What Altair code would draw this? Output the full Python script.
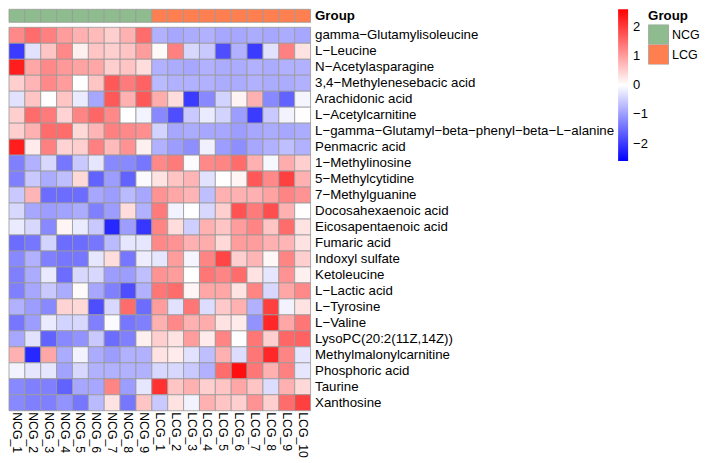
import altair as alt
import pandas as pd

M = "\u2212"
metabolites = [
    "\u00a0gamma" + M + "Glutamylisoleucine",
    "\u00a0L" + M + "Leucine",
    "\u00a0N" + M + "Acetylasparagine",
    "3,4" + M + "Methylenesebacic acid",
    "Arachidonic acid",
    "L" + M + "Acetylcarnitine",
    "L" + M + "gamma" + M + "Glutamyl" + M + "beta" + M + "phenyl" + M + "beta" + M + "L" + M + "alanine",
    "Penmacric acid",
    "1" + M + "Methylinosine",
    "5" + M + "Methylcytidine",
    "7" + M + "Methylguanine",
    "Docosahexaenoic acid",
    "Eicosapentaenoic acid",
    "Fumaric acid",
    "Indoxyl sulfate",
    "Ketoleucine",
    "L" + M + "Lactic acid",
    "L" + M + "Tyrosine",
    "L" + M + "Valine",
    "LysoPC(20:2(11Z,14Z))",
    "Methylmalonylcarnitine",
    "Phosphoric acid",
    "Taurine",
    "Xanthosine",
]

ncg_samples = ["NCG_1", "NCG_2", "NCG_3", "NCG_4", "NCG_5", "NCG_6", "NCG_7", "NCG_8", "NCG_9"]
lcg_samples = ["LCG_1", "LCG_2", "LCG_3", "LCG_4", "LCG_5", "LCG_6", "LCG_7", "LCG_8", "LCG_9", "LCG_10"]

ncg_values = [
    [1.2, 1.5, 1.3, 1.0, 0.8, 0.7, 0.5, 0.8, 1.5],
    [-2.0, -0.3, 0.6, 1.2, 0.15, 0.6, 0.5, 0.6, 1.0],
    [2.3, 0.9, 1.2, 1.05, 0.95, 0.9, 0.5, 0.6, 0.35],
    [0.5, 0.75, 1.2, 1.0, 0.0, 0.6, 1.7, 1.35, 1.6],
    [-0.3, 0.6, 0.0, 0.6, -0.2, -0.9, 1.7, 0.8, 1.7],
    [0.5, 1.5, 1.35, 0.45, 1.25, 1.55, 1.2, 0.0, -0.12],
    [0.5, 0.8, 1.5, 1.5, 0.4, 0.75, 1.3, 1.2, 1.15],
    [2.3, 0.2, 1.3, 0.45, 0.5, 1.3, 0.7, 1.1, 0.15],
    [-1.3, -0.8, -0.4, -1.4, -0.55, -0.25, -1.2, -1.2, -1.4],
    [-1.3, -0.55, -0.85, -0.65, 0.4, -1.6, -1.0, -1.6, -0.05],
    [-0.55, 0.75, -1.5, -1.5, -1.5, -0.9, -1.0, -0.7, -0.9],
    [-0.4, -0.9, -1.0, -0.95, -0.85, -1.3, -1.0, 0.35, -0.8],
    [-0.2, -0.4, -1.2, 0.1, -0.2, -0.55, -2.2, -1.0, -2.05],
    [-1.5, -1.4, -0.45, -1.5, -1.5, -1.4, -0.7, -0.25, -0.25],
    [-1.2, -0.8, -1.3, -1.4, -1.4, -0.25, 0.35, -1.4, -0.18],
    [-1.3, -0.85, -0.22, -1.5, -0.4, -0.4, -1.0, -1.0, -0.65],
    [-1.3, -0.9, -0.55, -0.85, 0.05, -0.9, -1.3, -1.8, -0.8],
    [-0.8, -1.0, -1.2, 0.45, 0.4, -1.8, -0.4, 1.5, -1.5],
    [-1.4, -1.0, -0.2, -0.45, -0.4, -1.3, -0.05, -1.4, -1.3],
    [-0.9, -0.3, -1.6, -1.2, -1.1, -0.55, -1.5, -1.3, 0.15],
    [0.8, -2.2, 0.9, -0.85, -0.12, -0.85, -1.0, -0.8, -0.8],
    [-0.12, -0.25, -0.25, -0.95, -0.4, -0.8, -0.8, -0.8, -0.8],
    [-1.2, -1.3, -1.3, -1.6, -0.9, -0.9, 1.25, -1.0, -0.25],
    [-1.2, -1.3, -1.3, -1.1, -1.4, -0.7, 0.3, -1.4, 0.6],
]

lcg_values = [
    [-0.8, -0.9, -0.85, -0.8, -0.9, -0.9, -0.85, -0.9, -0.85, -0.9],
    [0.05, 1.3, -0.4, -0.55, -1.8, -0.8, -2.0, -0.3, 1.3, 0.3],
    [-0.8, -0.85, -0.9, -0.8, -0.85, -0.85, -0.8, -0.85, -0.8, -0.8],
    [-0.7, -0.8, -0.8, -0.8, -0.85, -0.85, -0.8, -0.85, -0.85, -0.8],
    [0.85, 0.35, -2.0, -1.2, -0.45, 0.12, 0.8, -1.2, -1.6, -0.1],
    [-1.2, -1.8, -0.55, -0.2, -0.45, -1.0, -2.0, -0.55, -0.12, 0.02],
    [-0.45, -0.9, -0.85, -0.9, -0.9, -1.0, -0.9, -0.85, -0.9, -0.85],
    [-0.8, -1.0, -1.15, -0.15, -1.0, -1.15, -0.9, -0.8, -0.65, -0.8],
    [1.2, 1.35, -0.05, 1.2, 1.25, 1.5, 0.8, -0.08, 0.85, 0.5],
    [0.3, 0.6, 0.75, -0.3, 0.0, 0.1, 1.7, 1.2, 1.95, 0.8],
    [1.1, 0.9, 0.75, -0.65, 0.8, 0.8, 0.8, 0.95, 1.25, 1.1],
    [1.35, -0.12, 0.0, -0.4, 0.5, 1.75, 1.35, 1.8, 0.8, 0.02],
    [1.25, 0.35, -0.5, 0.8, 0.6, 1.0, 1.25, 0.6, 1.5, 0.3],
    [1.2, 1.1, 0.8, 0.85, 0.4, 1.0, 1.0, 0.8, 0.75, 0.3],
    [-0.25, 1.0, -0.1, 1.25, 1.9, 0.5, 0.75, 0.08, 1.25, 0.5],
    [1.1, 1.0, 0.0, 1.4, 1.25, 1.5, 0.3, -0.25, 1.1, 0.15],
    [1.4, 1.5, 0.1, 0.9, 0.9, 0.3, 1.25, -0.4, 0.9, 1.2],
    [1.0, -0.3, 1.4, -0.35, 0.55, 0.8, -0.8, 1.95, -0.12, 0.3],
    [0.8, 1.2, 0.8, 0.85, 0.3, 0.2, -1.1, 2.2, 0.9, 1.4],
    [0.5, 0.3, 1.0, 0.2, 1.25, 0.0, 1.4, 0.5, 1.55, 1.6],
    [0.3, 0.2, -0.3, -0.65, 0.8, -0.35, 1.4, 2.2, 1.25, -0.25],
    [-0.4, -0.4, -0.55, -0.8, 1.5, 2.45, 1.4, 0.8, 1.3, -0.25],
    [2.1, 0.6, 0.8, 0.5, 0.6, 0.9, 0.6, -0.35, 0.8, 0.4],
    [-0.55, 0.3, -0.12, 0.8, 0.6, 0.5, 1.1, 0.5, 1.5, 1.95],
]

group_names = ["NCG", "LCG"]
group_colors = ["#8FBC8F", "#FF7F50"]
color_domain = [-2.6, 0, 2.6]
color_range = ["#0000FF", "#FFFFFF", "#FF0000"]
legend_ticks = [-2, -1, 0, 1, 2]

samples = ncg_samples + lcg_samples
records = []
for m, nv, lv in zip(metabolites, ncg_values, lcg_values):
    for s, v in zip(samples, nv + lv):
        records.append({"metabolite": m, "sample": s, "value": v})
df = pd.DataFrame(records)
gdf = pd.DataFrame({
    "sample": samples,
    "group": [group_names[0]] * len(ncg_samples) + [group_names[1]] * len(lcg_samples),
    "label": "Group",
})

FONT = "Liberation Sans"
W = 302
GRID = "#999999"

bar = alt.Chart(gdf).mark_rect(stroke=GRID, strokeWidth=0.8).encode(
    x=alt.X("sample:N", sort=samples,
            scale=alt.Scale(domain=samples, paddingInner=0, paddingOuter=0), axis=None),
    y=alt.Y("label:N", axis=alt.Axis(orient="right", title=None, ticks=False, domain=False,
                                     labelFontWeight="bold", labelFontSize=13.3, labelFont=FONT,
                                     labelColor="black", labelPadding=4)),
    fill=alt.Fill("group:N", scale=alt.Scale(domain=group_names, range=group_colors),
                  legend=alt.Legend(title="Group", orient="none", legendX=640, legendY=0,
                                    padding=0, symbolType="square", symbolSize=400,
                                    symbolStrokeColor=GRID, symbolStrokeWidth=0.8,
                                    rowPadding=0, clipHeight=20, labelFontSize=12.5,
                                    labelFont=FONT, labelColor="black", titleFontSize=13.3,
                                    titleFont=FONT, titleColor="black", titlePadding=2,
                                    labelOffset=3, symbolOffset=0)),
).properties(width=W, height=13)

heat = alt.Chart(df).mark_rect(stroke=GRID, strokeWidth=0.8).encode(
    x=alt.X("sample:N", sort=samples,
            scale=alt.Scale(domain=samples, paddingInner=0, paddingOuter=0),
            axis=alt.Axis(title=None, labelAngle=90, ticks=False, domain=False,
                          labelFontSize=12.3, labelFont=FONT, labelColor="black", labelPadding=1)),
    y=alt.Y("metabolite:N", sort=metabolites,
            scale=alt.Scale(domain=metabolites, paddingInner=0, paddingOuter=0),
            axis=alt.Axis(orient="right", title=None, ticks=False, domain=False,
                          labelFontSize=13.3, labelFont=FONT, labelColor="black",
                          labelPadding=4, labelLimit=400)),
    color=alt.Color("value:Q",
                    scale=alt.Scale(domain=color_domain, range=color_range, interpolate="rgb"),
                    legend=alt.Legend(title=None, orient="none", legendX=610, legendY=0,
                                      padding=0, direction="vertical", gradientLength=152,
                                      gradientThickness=10, gradientStrokeWidth=0,
                                      values=legend_ticks, labelFontSize=13, labelFont=FONT,
                                      labelColor="black", labelOffset=5)),
).properties(width=W, height=384)

chart = alt.vconcat(bar, heat, spacing=3).resolve_scale(
    x="shared"
).resolve_legend(color="shared", fill="shared").configure_view(strokeWidth=0).properties(padding=0)

chart.save("out.html", embed_options={"renderer": "svg", "actions": False})
